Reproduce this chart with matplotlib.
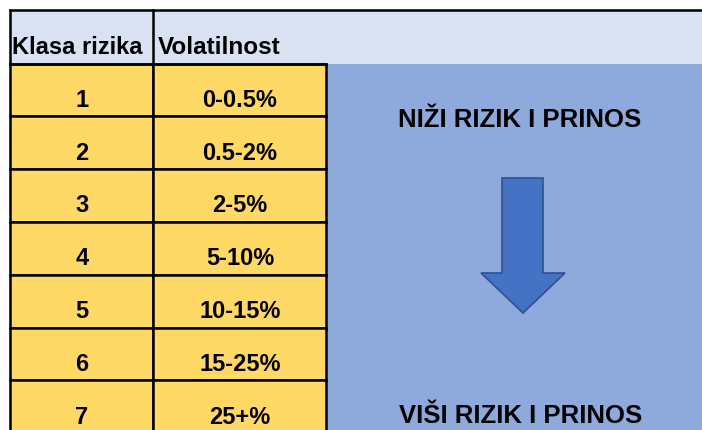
import matplotlib.pyplot as plt
from matplotlib.patches import Rectangle, Polygon

plt.rcParams['font.family'] = ['Liberation Sans', 'DejaVu Sans']

# table content
header = ['Klasa rizika', 'Volatilnost']
classes = ['1', '2', '3', '4', '5', '6', '7']
volatility = ['0-0.5%', '0.5-2%', '2-5%', '5-10%', '10-15%', '15-25%', '25+%']
top_note = 'NIŽI RIZIK I PRINOS'
bottom_note = 'VIŠI RIZIK I PRINOS'

# layout in pixels
col_x = [9.5, 153, 326]
head_top, head_bot = 10, 63.5
row_h = 52.8
W, H = 702, 430
yellow = '#FFD966'
lav = '#D9E1F2'
blue_bg = '#8EA9DB'

f = plt.figure(figsize=(7.02, 4.30), dpi=100)
ax = f.add_axes([0, 0, 1, 1])
ax.set_xlim(0, W); ax.set_ylim(H, 0); ax.axis('off')

# header band and blue area
ax.add_patch(Rectangle((col_x[0], head_top), W - col_x[0], head_bot - head_top, fc=lav, ec='none'))
ax.add_patch(Rectangle((col_x[2], head_bot), W - col_x[2], H - head_bot, fc=blue_bg, ec='none'))
ax.plot([col_x[0], W], [head_top, head_top], color='k', lw=1.8)
ax.plot([col_x[0], col_x[0]], [head_top, head_bot], color='k', lw=1.8)
ax.plot([col_x[1], col_x[1]], [head_top, head_bot], color='k', lw=1.8)
ax.plot([col_x[0], col_x[2]], [head_bot, head_bot], color='k', lw=1.8)

ax.text(col_x[0] + 3, head_bot - 9.5, header[0], fontsize=17, fontweight='bold', ha='left', va='baseline')
ax.text(col_x[1] + 5, head_bot - 9.5, header[1], fontsize=17.5, fontweight='bold', ha='left', va='baseline')

for i, (c, v) in enumerate(zip(classes, volatility)):
    y0 = head_bot + i * row_h
    for j, txt in enumerate([c, v]):
        ax.add_patch(Rectangle((col_x[j], y0), col_x[j + 1] - col_x[j], row_h,
                               fc=yellow, ec='k', lw=1.8))
        ax.text((col_x[j] + col_x[j + 1]) / 2 + 0.5, y0 + row_h - 9.5, txt, fontsize=17,
                fontweight='bold', ha='center', va='baseline')

# arrow
cx = 523
ax.add_patch(Polygon([(502, 178), (543, 178), (543, 273), (565, 273), (cx, 313),
                      (481, 273), (502, 273)], closed=True, fc='#4472C4', ec='#2F528F', lw=1.2))
ax.text(520, 127, top_note, fontsize=18.5, fontweight='bold', ha='center', va='baseline')
ax.text(520.5, 423, bottom_note, fontsize=18.5, fontweight='bold', ha='center', va='baseline')

f.savefig('out.png', dpi=100)
